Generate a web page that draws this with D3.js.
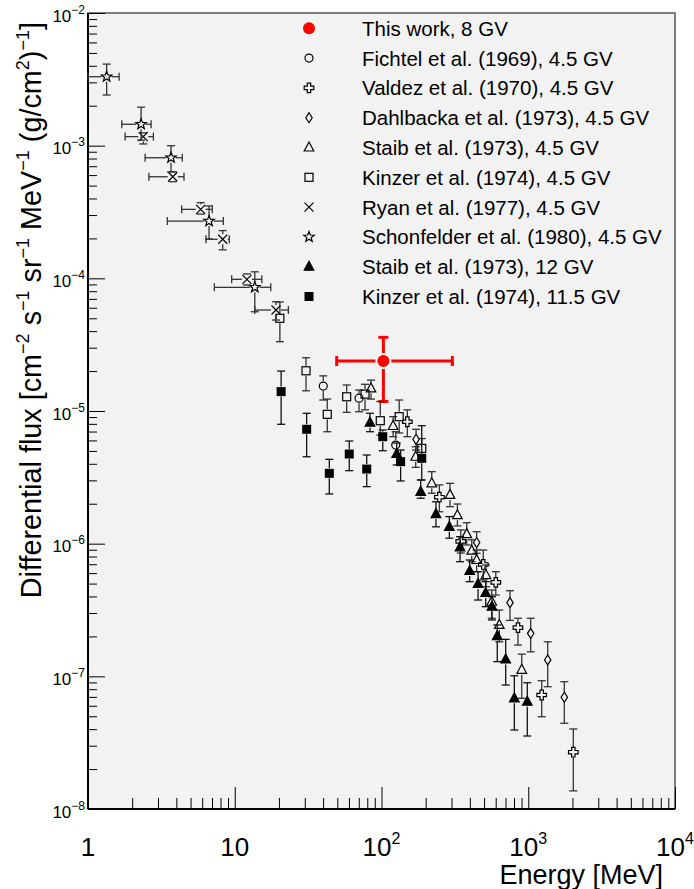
<!DOCTYPE html>
<html><head><meta charset="utf-8">
<script src="https://cdn.jsdelivr.net/npm/d3@7"></script>
<style>
body{margin:0;background:#fff}
svg{display:block}
text{font-family:"Liberation Sans",Arial,Helvetica,sans-serif;fill:#000}
</style>
</head><body>
<svg id="c" width="694" height="889"></svg>
<script>
// ---------------- data ----------------
const xMajorTicks = [1, 10, 100, 1000, 10000];
const xTickBase = ["1", "10", "10", "10", "10"];
const xTickExp = ["", "", "2", "3", "4"];
const yMajorTicks = [1e-8, 1e-7, 1e-6, 1e-5, 1e-4, 1e-3, 1e-2];
const yTickExp = ["−8", "−7", "−6", "−5", "−4", "−3", "−2"];
const legendLabels = [
  "This work, 8 GV",
  "Fichtel et al. (1969), 4.5 GV",
  "Valdez et al. (1970), 4.5 GV",
  "Dahlbacka et al. (1973), 4.5 GV",
  "Staib et al. (1973), 4.5 GV",
  "Kinzer et al. (1974), 4.5 GV",
  "Ryan et al. (1977), 4.5 GV",
  "Schonfelder et al. (1980), 4.5 GV",
  "Staib et al. (1973), 12 GV",
  "Kinzer et al. (1974), 11.5 GV"
];
// rows: [E (MeV), flux, flux low, flux high, E low, E high]
const thisWork = [[103, 2.38e-5, 1.18e-5, 3.59e-5, 49.5, 304]];
const fichtel = [
  [40.1, 1.54e-5, 1.21e-5, 1.84e-5],
  [70.3, 1.25e-5, 9.88e-6, 1.44e-5],
  [125, 5.54e-6, 4.52e-6, 6.98e-6]
];
const valdez = [
  [150, 8.30e-6, 6.40e-6, 1.02e-5],
  [248, 2.24e-6, 1.74e-6, 2.77e-6],
  [347, 1.04e-6, 8.50e-7, 1.27e-6],
  [494, 6.97e-7, 5.32e-7, 8.96e-7],
  [601, 5.11e-7, 4.10e-7, 6.15e-7],
  [851, 2.33e-7, 1.72e-7, 2.74e-7],
  [1235, 7.23e-8, 4.96e-8, 9.27e-8],
  [2028, 2.68e-8, 1.37e-8, 4.01e-8]
];
const dahlbacka = [
  [172, 6.12e-6, 5.08e-6, 7.28e-6],
  [445, 1.02e-6, 8.46e-7, 1.23e-6],
  [751, 3.59e-7, 2.64e-7, 4.42e-7],
  [1039, 2.11e-7, 1.53e-7, 2.74e-7],
  [1357, 1.33e-7, 8.35e-8, 1.82e-7],
  [1761, 6.95e-8, 4.43e-8, 9.11e-8]
];
const staib45 = [
  [84.8, 1.48e-5, 1.23e-5, 1.71e-5],
  [120, 7.71e-6, 6.40e-6, 9.06e-6],
  [171, 4.52e-6, 3.76e-6, 5.38e-6],
  [220, 2.85e-6, 2.40e-6, 3.49e-6],
  [293, 2.33e-6, 1.90e-6, 2.85e-6],
  [329, 1.64e-6, 1.36e-6, 1.99e-6],
  [381, 1.18e-6, 9.77e-7, 1.44e-6],
  [412, 8.85e-7, 7.31e-7, 1.07e-6],
  [445, 7.53e-7, 6.15e-7, 8.96e-7],
  [515, 5.80e-7, 4.74e-7, 6.91e-7],
  [564, 3.65e-7, 2.74e-7, 4.47e-7],
  [635, 2.44e-7, 1.82e-7, 3.16e-7],
  [903, 1.12e-7, 6.83e-8, 1.47e-7]
];
const kinzer45 = [
  [20.3, 5.00e-5, 3.33e-5, 6.63e-5],
  [30.6, 2.01e-5, 1.42e-5, 2.52e-5],
  [42.7, 9.44e-6, 6.98e-6, 1.23e-5],
  [57.9, 1.28e-5, 9.77e-6, 1.57e-5],
  [77.2, 1.34e-5, 1.02e-5, 1.59e-5],
  [98.1, 8.45e-6, 6.59e-6, 1.18e-5],
  [132, 9.06e-6, 6.83e-6, 1.21e-5],
  [188, 5.23e-6, 4.40e-6, 6.20e-6]
];
const ryan = [
  [2.38, 1.17e-3, 1.03e-3, 1.25e-3, 1.79, 2.79],
  [3.78, 5.83e-4, 5.35e-4, 6.36e-4, 2.60, 4.51],
  [5.86, 3.31e-4, 3.05e-4, 3.72e-4, 4.35, 7.03],
  [8.28, 1.97e-4, 1.64e-4, 2.29e-4, 6.37, 9.18],
  [12.1, 9.83e-5, 8.91e-5, 1.08e-4, 9.53, 15.3],
  [19.1, 5.77e-5, 4.85e-5, 6.66e-5, 13.7, 23.2]
];
const schonfelder = [
  [1.34, 3.31e-3, 2.41e-3, 4.12e-3, 1.0, 1.63],
  [2.30, 1.45e-3, 1.10e-3, 1.95e-3, 1.70, 2.69],
  [3.68, 8.11e-4, 6.33e-4, 9.99e-4, 2.45, 4.39],
  [6.68, 2.70e-4, 1.98e-4, 3.51e-4, 3.47, 8.36],
  [13.7, 8.56e-5, 5.60e-5, 1.12e-4, 7.26, 17.6]
];
const staib12 = [
  [83.5, 8.16e-6, 6.98e-6, 9.61e-6],
  [127, 4.74e-6, 3.92e-6, 5.74e-6],
  [185, 2.46e-6, 2.20e-6, 3.02e-6],
  [235, 1.67e-6, 1.34e-6, 2.07e-6],
  [290, 1.34e-6, 1.10e-6, 1.60e-6],
  [343, 9.39e-7, 7.31e-7, 1.13e-6],
  [399, 6.22e-7, 5.17e-7, 7.53e-7],
  [455, 4.97e-7, 3.76e-7, 6.15e-7],
  [513, 4.25e-7, 3.35e-7, 5.17e-7],
  [566, 3.35e-7, 2.66e-7, 3.98e-7],
  [615, 2.01e-7, 1.29e-7, 2.44e-7],
  [702, 1.34e-7, 8.60e-8, 1.90e-7],
  [804, 6.83e-8, 3.94e-8, 1.01e-7],
  [985, 6.44e-8, 3.55e-8, 8.95e-8]
];
const kinzer115 = [
  [20.7, 1.40e-5, 7.94e-6, 2.00e-5],
  [30.9, 7.28e-6, 4.52e-6, 9.61e-6],
  [44.1, 3.39e-6, 2.37e-6, 4.32e-6],
  [60.3, 4.74e-6, 3.55e-6, 5.94e-6],
  [79.3, 3.65e-6, 2.69e-6, 4.66e-6],
  [102, 6.40e-6, 5.02e-6, 7.19e-6],
  [135, 4.15e-6, 2.97e-6, 5.08e-6],
  [188, 4.40e-6, 3.02e-6, 7.75e-6]
];

// ---------------- styles ----------------
const series = [
  {data: thisWork, marker: "fcircle", color: "#ff0000", bar: "#ff0000", bw: 3, gap: 8, cap: 5},
  {data: fichtel, marker: "ocircle", color: "#000", bar: "#333", bw: 1.3, gap: 5, cap: 4},
  {data: valdez, marker: "ocross", color: "#000", bar: "#333", bw: 1.3, gap: 5, cap: 4},
  {data: dahlbacka, marker: "odiamond", color: "#000", bar: "#333", bw: 1.3, gap: 5, cap: 4},
  {data: staib45, marker: "otriangle", color: "#000", bar: "#333", bw: 1.3, gap: 5, cap: 4},
  {data: kinzer45, marker: "osquare", color: "#000", bar: "#333", bw: 1.3, gap: 5, cap: 4},
  {data: ryan, marker: "xmark", color: "#000", bar: "#333", bw: 1.3, gap: 5, cap: 4},
  {data: schonfelder, marker: "ostar", color: "#000", bar: "#333", bw: 1.3, gap: 5, cap: 4},
  {data: staib12, marker: "ftriangle", color: "#000", bar: "#111", bw: 1.3, gap: 5, cap: 4},
  {data: kinzer115, marker: "fsquare", color: "#000", bar: "#111", bw: 1.3, gap: 5, cap: 4}
];

const W = 694, H = 889;
const L = 88, R = 675, T = 13, B = 809;
const svg = d3.select("#c");
const x = d3.scaleLog().domain([1, 1e4]).range([L, R]);
const y = d3.scaleLog().domain([1e-8, 1e-2]).range([B, T]);

svg.append("rect").attr("x", 0).attr("y", 0).attr("width", W).attr("height", H).attr("fill", "#fff");
svg.append("rect").attr("x", L).attr("y", T).attr("width", R - L).attr("height", B - T)
  .attr("fill", "#f2f2f2").attr("stroke", "#555").attr("stroke-width", 1.5);

// axes (ticks inside)
const xMinor = x.ticks().filter(v => !xMajorTicks.some(m => Math.abs(m - v) / m < 1e-9));
const yMinor = y.ticks().filter(v => !yMajorTicks.some(m => Math.abs(m - v) / m < 1e-9));
function styleAxis(g) {
  g.select(".domain").remove();
  g.selectAll(".tick line").attr("stroke", "#000").attr("stroke-width", 1);
  g.selectAll(".tick text").remove();
}
svg.append("g").attr("transform", `translate(0,${B})`)
  .call(d3.axisBottom(x).tickValues(xMinor).tickSize(-11).tickFormat("")).call(styleAxis);
svg.append("g").attr("transform", `translate(0,${B})`)
  .call(d3.axisBottom(x).tickValues(xMajorTicks).tickSize(-22).tickFormat("")).call(styleAxis);
svg.append("g").attr("transform", `translate(${L},0)`)
  .call(d3.axisLeft(y).tickValues(yMinor).tickSize(-9).tickFormat("")).call(styleAxis);
svg.append("g").attr("transform", `translate(${L},0)`)
  .call(d3.axisLeft(y).tickValues(yMajorTicks).tickSize(-17).tickFormat("")).call(styleAxis);
svg.append("line").attr("x1", L).attr("x2", R).attr("y1", B).attr("y2", B).attr("stroke", "#000").attr("stroke-width", 2);
svg.append("line").attr("x1", L).attr("x2", L).attr("y1", T).attr("y2", B).attr("stroke", "#000").attr("stroke-width", 2);

// tick labels
xMajorTicks.forEach((v, i) => {
  const t = svg.append("text").attr("x", x(v)).attr("y", 856).attr("text-anchor", "middle")
    .style("font-size", "26px");
  t.append("tspan").text(xTickBase[i]);
  if (xTickExp[i]) t.append("tspan").attr("dy", -12).style("font-size", "16px").text(xTickExp[i]);
});
yMajorTicks.forEach((v, i) => {
  const t = svg.append("text").attr("x", 85).attr("y", y(v) + 8.5).attr("text-anchor", "end")
    .style("font-size", "17px");
  t.append("tspan").text("10");
  t.append("tspan").attr("dy", -8).style("font-size", "12px").text(yTickExp[i]);
});

// axis titles
svg.append("text").attr("x", 663).attr("y", 884).attr("text-anchor", "end")
  .style("font-size", "27px").text("Energy [MeV]");
const yt = svg.append("text").attr("transform", "translate(41,22) rotate(-90)")
  .attr("text-anchor", "end").style("font-size", "28.8px");
const parts = [["Differential flux [cm", 0], ["−2", 1], [" s", 0], ["−1", 1], [" sr", 0], ["−1", 1],
  [" MeV", 0], ["−1", 1], [" (g/cm", 0], ["2", 1], [")", 0], ["−1", 1], ["]", 0]];
let up = false;
parts.forEach(([s, sup]) => {
  const ts = yt.append("tspan").text(s);
  if (sup && !up) { ts.attr("dy", -12).style("font-size", "18px"); up = true; }
  else if (sup && up) { ts.style("font-size", "18px"); }
  else if (!sup && up) { ts.attr("dy", 12); up = false; }
});

// markers
function drawMarker(g, type, cx, cy, color) {
  const sw = 1.2;
  switch (type) {
    case "fcircle": g.append("circle").attr("cx", cx).attr("cy", cy).attr("r", 6).attr("fill", color); break;
    case "ocircle": g.append("circle").attr("cx", cx).attr("cy", cy).attr("r", 4).attr("fill", "none").attr("stroke", color).attr("stroke-width", sw); break;
    case "osquare": g.append("rect").attr("x", cx - 4).attr("y", cy - 4).attr("width", 8).attr("height", 8).attr("fill", "none").attr("stroke", color).attr("stroke-width", sw); break;
    case "fsquare": g.append("rect").attr("x", cx - 4.5).attr("y", cy - 4.5).attr("width", 9).attr("height", 9).attr("fill", color); break;
    case "otriangle":
    case "ftriangle": {
      const p = [[0, -5.5], [4.8, 3.5], [-4.8, 3.5]].map(d => [cx + d[0], cy + d[1]]);
      g.append("path").attr("d", d3.line()(p) + "Z")
        .attr("fill", type === "ftriangle" ? color : "none").attr("stroke", color).attr("stroke-width", sw)
        .attr("stroke-linejoin", "miter");
      break;
    }
    case "odiamond": {
      const p = [[0, -5], [3.2, 0], [0, 5], [-3.2, 0]].map(d => [cx + d[0], cy + d[1]]);
      g.append("path").attr("d", d3.line()(p) + "Z").attr("fill", "none").attr("stroke", color).attr("stroke-width", sw);
      break;
    }
    case "ocross": {
      const a = 4.8, w = 1.7;
      const p = [[-w, -a], [w, -a], [w, -w], [a, -w], [a, w], [w, w], [w, a], [-w, a], [-w, w], [-a, w], [-a, -w], [-w, -w]]
        .map(d => [cx + d[0], cy + d[1]]);
      g.append("path").attr("d", d3.line()(p) + "Z").attr("fill", "none").attr("stroke", color).attr("stroke-width", sw);
      break;
    }
    case "xmark": {
      const a = 4.5;
      g.append("path").attr("d", `M${cx - a},${cy - a}L${cx + a},${cy + a}M${cx - a},${cy + a}L${cx + a},${cy - a}`)
        .attr("stroke", color).attr("stroke-width", sw).attr("fill", "none");
      break;
    }
    case "ostar": {
      const p = [];
      for (let k = 0; k < 10; k++) {
        const r = k % 2 === 0 ? 5.5 : 2.3;
        const ang = -Math.PI / 2 + k * Math.PI / 5;
        p.push([cx + r * Math.cos(ang), cy + r * Math.sin(ang)]);
      }
      g.append("path").attr("d", d3.line()(p) + "Z").attr("fill", "none").attr("stroke", color).attr("stroke-width", sw);
      break;
    }
  }
}

// error bars + markers
const plot = svg.append("g");
series.forEach(s => {
  const g = plot.append("g");
  s.data.forEach(d => {
    const cx = x(d[0]), cy = y(d[1]);
    const yl = y(d[2]), yh = y(d[3]);
    const st = l => l.attr("stroke", s.bar).attr("stroke-width", s.bw);
    if (yh < cy - s.gap) st(g.append("line").attr("x1", cx).attr("x2", cx).attr("y1", cy - s.gap).attr("y2", yh));
    if (yl > cy + s.gap) st(g.append("line").attr("x1", cx).attr("x2", cx).attr("y1", cy + s.gap).attr("y2", yl));
    st(g.append("line").attr("x1", cx - s.cap).attr("x2", cx + s.cap).attr("y1", yh).attr("y2", yh));
    st(g.append("line").attr("x1", cx - s.cap).attr("x2", cx + s.cap).attr("y1", yl).attr("y2", yl));
    if (d.length > 4) {
      const xl = x(d[4]), xh = x(d[5]);
      if (xl < cx - s.gap) st(g.append("line").attr("y1", cy).attr("y2", cy).attr("x1", cx - s.gap).attr("x2", xl));
      if (xh > cx + s.gap) st(g.append("line").attr("y1", cy).attr("y2", cy).attr("x1", cx + s.gap).attr("x2", xh));
      st(g.append("line").attr("y1", cy - s.cap).attr("y2", cy + s.cap).attr("x1", xl).attr("x2", xl));
      st(g.append("line").attr("y1", cy - s.cap).attr("y2", cy + s.cap).attr("x1", xh).attr("x2", xh));
    }
  });
  s.data.forEach(d => drawMarker(g, s.marker, x(d[0]), y(d[1]), s.color));
});

// legend
const leg = svg.append("g");
series.forEach((s, i) => {
  const ry = 28.3 + i * 29.8;
  drawMarker(leg, s.marker, 309, ry, s.color);
  leg.append("text").attr("x", 362).attr("y", ry + 7.4).style("font-size", "20.5px").text(legendLabels[i]);
});
</script>
</body></html>
